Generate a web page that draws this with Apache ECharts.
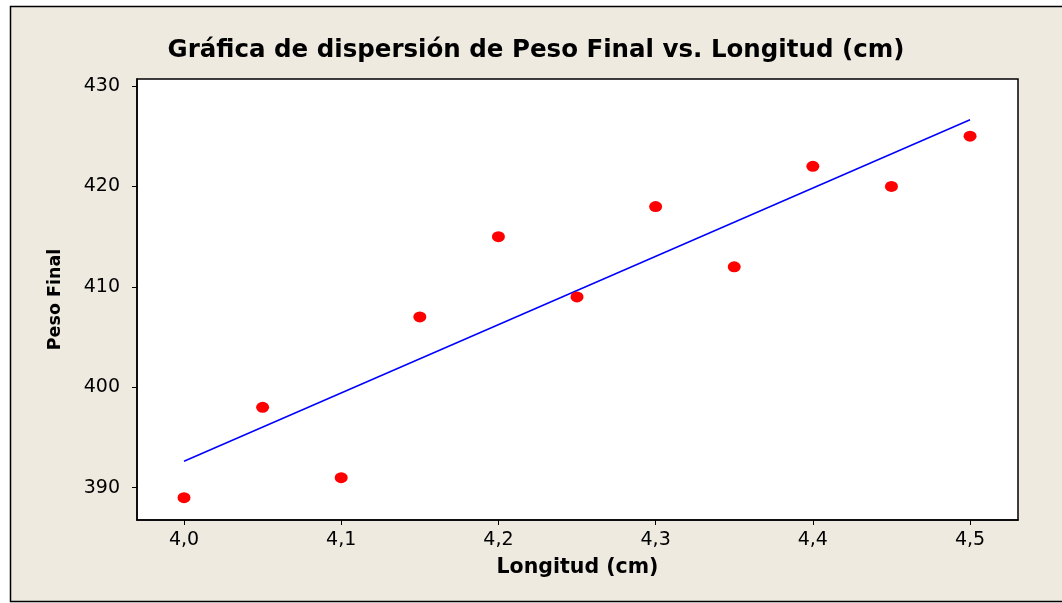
<!DOCTYPE html>
<html><head><meta charset="utf-8">
<script src="https://cdn.jsdelivr.net/npm/echarts@6/dist/echarts.min.js"></script>
<style>html,body{margin:0;padding:0;background:#fff;}#c{width:1062px;height:603px;}</style>
</head><body><div id="c"></div>
<script>
const titleText = 'Gráfica de dispersión de Peso Final vs. Longitud (cm)';
const xName = 'Longitud (cm)';
const yName = 'Peso Final';
const longitud = [4.00, 4.05, 4.10, 4.15, 4.20, 4.25, 4.30, 4.35, 4.40, 4.45, 4.50];
const pesoFinal = [389, 398, 391, 407, 415, 409, 418, 412, 422, 420, 425];
const xTicks = [4.0, 4.1, 4.2, 4.3, 4.4, 4.5];
const yTicks = [390, 400, 410, 420, 430];

// least squares fit line (as drawn by the original software)
const n = longitud.length;
const mx = longitud.reduce((a,b)=>a+b,0)/n;
const my = pesoFinal.reduce((a,b)=>a+b,0)/n;
let sxy=0, sxx=0;
for (let i=0;i<n;i++){ sxy+=(longitud[i]-mx)*(pesoFinal[i]-my); sxx+=(longitud[i]-mx)**2; }
const slope = sxy/sxx, icpt = my - slope*mx;
const xMin = Math.min(...longitud), xMax = Math.max(...longitud);
const fitLine = [[xMin, icpt+slope*xMin],[xMax, icpt+slope*xMax]];

const FONT = 'DejaVu Sans';
const chart = echarts.init(document.getElementById('c'), null, {renderer:'canvas'});
chart.setOption({
  animation:false,
  backgroundColor:'#ffffff',
  graphic:[{type:'rect', z:-10, silent:true, shape:{x:10.5,y:6.5,width:1070,height:595}, style:{fill:'#EEEAE0', stroke:'#000', lineWidth:1.5}},
           {type:'line', z:-9, silent:true, shape:{x1:10,y1:602.5,x2:1062,y2:602.5}, style:{stroke:'#b8b8b8', lineWidth:1}}],
  title:{text:titleText, left:531, top:33, textAlign:'center',
    textStyle:{fontFamily:FONT, fontWeight:'bold', fontSize:24.5, color:'#000'}},
  grid:{left:137, top:79, right:44, bottom:83, show:true, backgroundColor:'#fff', borderColor:'#000', borderWidth:1.5},
  xAxis:{type:'value', min:3.9701, max:4.5305,
    name:xName, nameLocation:'middle', nameGap:37,
    nameTextStyle:{fontFamily:FONT, fontWeight:'bold', fontSize:20.5, color:'#000'},
    axisLine:{show:true, lineStyle:{color:'#000', width:1.5}},
    axisTick:{show:true, length:5, lineStyle:{color:'#000'}, customValues:xTicks},
    axisLabel:{customValues:xTicks, margin:11, fontFamily:FONT, fontSize:19, color:'#000',
      formatter:v=>v.toFixed(1).replace('.',',')},
    splitLine:{show:false}},
  yAxis:{type:'value', min:386.78, max:430.7,
    name:yName, nameLocation:'middle', nameGap:73, nameRotate:90,
    nameTextStyle:{fontFamily:FONT, fontWeight:'bold', fontSize:17.5, color:'#000'},
    axisLine:{show:true, lineStyle:{color:'#000', width:1.5}},
    axisTick:{show:true, length:5, lineStyle:{color:'#000'}, customValues:yTicks},
    axisLabel:{customValues:yTicks, margin:17, fontFamily:FONT, fontSize:19, color:'#000',
      formatter:v=>String(Math.round(v))},
    splitLine:{show:false}},
  series:[
    {type:'line', data:fitLine, symbol:'none', lineStyle:{color:'#0000FF', width:1.5}, z:2},
    {type:'scatter', data:longitud.map((x,i)=>[x,pesoFinal[i]]), symbol:'circle', symbolSize:[13,11],
      itemStyle:{color:'#FF0000', opacity:1}, z:3}
  ]
});
</script></body></html>
